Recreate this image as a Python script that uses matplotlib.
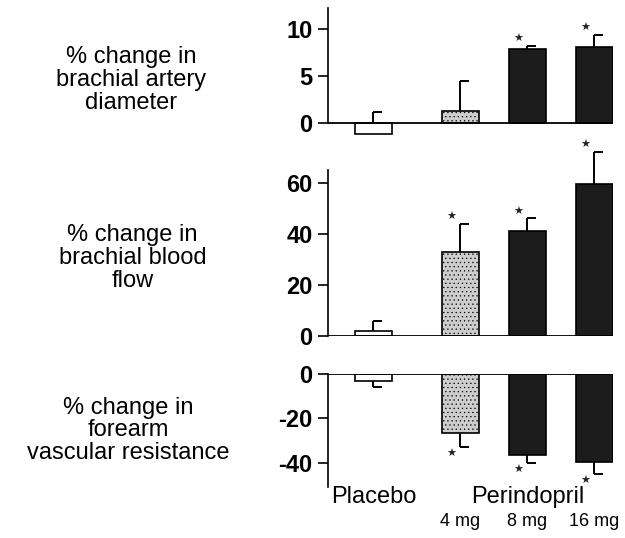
import numpy as np
import matplotlib.pyplot as plt

plt.rcParams['font.family'] = ['Liberation Sans', 'DejaVu Sans']
plt.rcParams['hatch.linewidth'] = 0.4
plt.rcParams['axes.unicode_minus'] = False

groups = ['Placebo', '4 mg', '8 mg', '16 mg']
xpos = np.array([0, 1.3, 2.3, 3.3])

# % change values and signed SEM (direction of the drawn error bar)
diameter = [-1.2, 1.3, 7.8, 8.1]
diameter_err = [2.3, 3.1, 0.4, 1.2]
diameter_sig = [False, False, True, True]

flow = [2.0, 33.0, 41.0, 59.6]
flow_err = [4.0, 11.0, 5.0, 12.6]
flow_sig = [False, True, True, True]

resistance = [-3.0, -26.5, -36.5, -39.5]
resistance_err = [-2.8, -6.5, -3.5, -5.5]
resistance_sig = [False, True, True, True]

panel_labels = ['% change in\nbrachial artery\ndiameter',
                '% change in\nbrachial blood\nflow',
                '% change in\nforearm\nvascular resistance']

colors = ['white', '#cdcdcd', '#1c1c1c', '#1c1c1c']
hatches = [None, '....', None, None]

fig = plt.figure(figsize=(6.25, 5.38), dpi=100)
ax1 = fig.add_axes([0.5248, 0.7454, 0.456, 0.2398])
ax2 = fig.add_axes([0.5248, 0.3755, 0.456, 0.3086])
ax3 = fig.add_axes([0.5248, 0.0948, 0.456, 0.2100])


def draw_panel(ax, vals, errs, sig, ylim, spine, ticks):
    ax.set_xlim(-0.68, 3.58)
    ax.set_ylim(*ylim)
    vals = np.array(vals)
    ends = vals + np.array(errs)
    # error bars sit behind the bars, one-sided cap to the right
    ax.vlines(xpos, vals, ends, color='black', lw=1.4, zorder=1, clip_on=False)
    ax.hlines(ends, xpos, xpos + 0.13, color='black', lw=1.4, zorder=1, clip_on=False)
    ax.bar(xpos, vals, width=0.56, color=colors, edgecolor='black',
           linewidth=1.2, hatch=hatches, zorder=2)
    ax.axhline(0, color='black', lw=1.3, zorder=3)
    for x, e, v, s in zip(xpos, ends, vals, sig):
        if s:
            dy = 5 if v > 0 else -5
            ax.annotate('\u2605', xy=(x, e), xytext=(-6.5, dy),
                        textcoords='offset points', ha='center', va='center',
                        fontsize=8, color='#222222', annotation_clip=False,
                        family=['DejaVu Sans'])
    for side in ['top', 'right', 'bottom']:
        ax.spines[side].set_visible(False)
    ax.spines['left'].set_bounds(*spine)
    ax.spines['left'].set_linewidth(1.2)
    ax.set_yticks(ticks)
    ax.set_xticks([])
    ax.tick_params(axis='y', direction='out', length=7, width=1.2, pad=4,
                   labelsize=17)
    for lab in ax.get_yticklabels():
        lab.set_fontweight('bold')
    ax.patch.set_alpha(0)


draw_panel(ax1, diameter, diameter_err, diameter_sig, (-1.5, 12.2), (0, 12.2), [0, 5, 10])
draw_panel(ax2, flow, flow_err, flow_sig, (0, 65), (0, 65), [0, 20, 40, 60])
draw_panel(ax3, resistance, resistance_err, resistance_sig, (-50.8, 0), (-50.8, 0), [0, -20, -40])

fig.text(0.21, 0.851, panel_labels[0], ha='center', va='center', fontsize=17,
         linespacing=1.05)
fig.text(0.212, 0.520, panel_labels[1], ha='center', va='center', fontsize=17,
         linespacing=1.05)
fig.text(0.205, 0.200, panel_labels[2], ha='center', va='center', fontsize=17,
         linespacing=1.05)

ax3.annotate('Placebo', xy=(xpos[0], 0), xycoords=('data', 'axes fraction'),
             xytext=(0, -7.5), textcoords='offset points', ha='center',
             va='center', fontsize=17)
ax3.annotate('Perindopril', xy=(xpos[2], 0), xycoords=('data', 'axes fraction'),
             xytext=(0, -7.5), textcoords='offset points', ha='center',
             va='center', fontsize=17)
for x, g in zip(xpos[1:], groups[1:]):
    ax3.annotate(g, xy=(x, 0), xycoords=('data', 'axes fraction'),
                 xytext=(0, -24.5), textcoords='offset points', ha='center',
                 va='center', fontsize=13)

fig.savefig('out.png', dpi=100)
